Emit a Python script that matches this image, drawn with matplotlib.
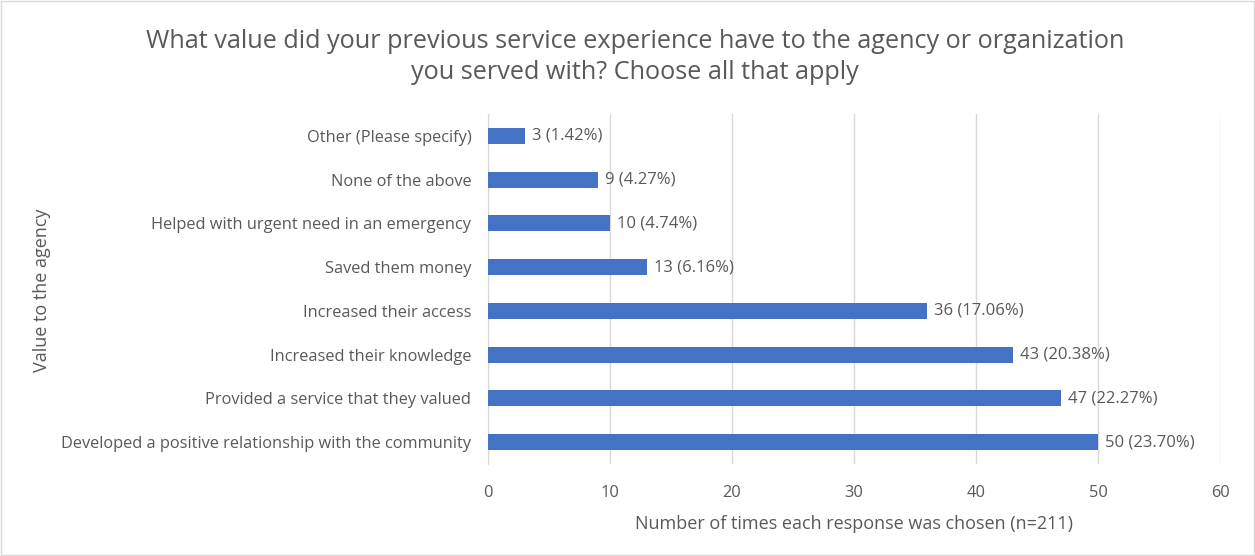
import matplotlib
matplotlib.use("Agg")
import matplotlib.pyplot as plt
from matplotlib.patches import Rectangle

categories = [
    "Developed a positive relationship with the community",
    "Provided a service that they valued",
    "Increased their knowledge",
    "Increased their access",
    "Saved them money",
    "Helped with urgent need in an emergency",
    "None of the above",
    "Other (Please specify)",
]
counts = [50, 47, 43, 36, 13, 10, 9, 3]
percents = ["23.70%", "22.27%", "20.38%", "17.06%", "6.16%", "4.74%", "4.27%", "1.42%"]
xticks = [0, 10, 20, 30, 40, 50, 60]

plt.rcParams['font.family'] = ['Open Sans', 'DejaVu Sans']
txt = '#595959'

fig = plt.figure(figsize=(12.55, 5.56), dpi=100)
ax = fig.add_axes([488/1255, 1-464/556, (1220-488)/1255, (464-114)/556])

y = list(range(len(categories)))
ax.barh(y, counts, height=0.37, color='#4472C4', zorder=3)
for yi, c, p in zip(y, counts, percents):
    ax.annotate(f"{c} ({p})", (c, yi), xytext=(5, 0), textcoords='offset points',
                va='center', ha='left', fontsize=12, color=txt)

ax.set_xlim(0, 60)
ax.set_ylim(-0.5, len(categories) - 0.5)
ax.set_xticks(xticks)
ax.set_yticks(y)
ax.set_yticklabels(categories)
ax.tick_params(axis='both', length=0, labelsize=11.8, labelcolor=txt)
ax.tick_params(axis='y', pad=12)
ax.tick_params(axis='x', pad=15)
ax.grid(axis='x', color='#D9D9D9', linewidth=1, zorder=0)
for s in ['top', 'right', 'bottom']:
    ax.spines[s].set_visible(False)
ax.spines['left'].set_color('#D9D9D9')
ax.set_xlabel("Number of times each response was chosen (n=211)", fontsize=13, color=txt, labelpad=10)

fig.text(0.506, 1-57/556, "What value did your previous service experience have to the agency or organization\nyou served with? Choose all that apply",
         ha='center', va='center', fontsize=18.2, color=txt, linespacing=1.3)
fig.text(42/1255, 1-290/556, "Value to the agency", rotation=90, ha='center', va='center',
         fontsize=13, color=txt)

fig.add_artist(Rectangle((0.001, 0.001), 0.998, 0.997, transform=fig.transFigure,
                         fill=False, edgecolor='#D9D9D9', linewidth=1))

fig.savefig("out.png", dpi=100, facecolor='white')
